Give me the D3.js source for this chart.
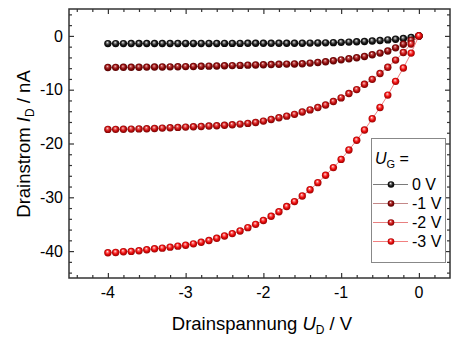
<!DOCTYPE html>
<html>
<head>
<meta charset="utf-8">
<script src="https://cdn.jsdelivr.net/npm/d3@7"></script>
<style>
  html, body { margin: 0; padding: 0; background: #fff; }
  svg { display: block; font-family: Arial, "Liberation Sans", sans-serif; }
</style>
</head>
<body>
<svg id="chart" width="456" height="338"></svg>
<script>
// Drain voltage sweep (V)
const drainVoltage = [
  -4.0, -3.9, -3.8, -3.7, -3.6, -3.5, -3.4, -3.3, -3.2, -3.1,
  -3.0, -2.9, -2.8, -2.7, -2.6, -2.5, -2.4, -2.3, -2.2, -2.1,
  -2.0, -1.9, -1.8, -1.7, -1.6, -1.5, -1.4, -1.3, -1.2, -1.1,
  -1.0, -0.9, -0.8, -0.7, -0.6, -0.5, -0.4, -0.3, -0.2, -0.1, 0.0
];

// Drain current (nA) for each gate voltage
const current0V = [
  -1.43, -1.43, -1.43, -1.42, -1.42, -1.42, -1.42, -1.41, -1.41, -1.41,
  -1.41, -1.40, -1.40, -1.40, -1.40, -1.39, -1.39, -1.39, -1.38, -1.38,
  -1.38, -1.38, -1.37, -1.37, -1.37, -1.36, -1.34, -1.32, -1.29, -1.25,
  -1.20, -1.15, -1.10, -1.04, -0.96, -0.86, -0.74, -0.62, -0.49, -0.28, 0.0
];
const currentM1V = [
  -5.86, -5.85, -5.84, -5.83, -5.82, -5.80, -5.79, -5.77, -5.75, -5.73,
  -5.71, -5.68, -5.65, -5.62, -5.59, -5.55, -5.52, -5.48, -5.44, -5.40,
  -5.36, -5.32, -5.28, -5.24, -5.21, -5.17, -5.06, -4.94, -4.81, -4.63,
  -4.45, -4.25, -4.06, -3.82, -3.50, -3.20, -2.80, -2.22, -1.55, -0.80, 0.0
];
const currentM2V = [
  -17.38, -17.37, -17.35, -17.32, -17.29, -17.26, -17.20, -17.14, -17.07, -17.01,
  -16.95, -16.89, -16.83, -16.76, -16.70, -16.62, -16.52, -16.39, -16.26, -16.09,
  -15.84, -15.53, -15.22, -14.92, -14.58, -14.15, -13.75, -13.32, -12.85, -12.20,
  -11.52, -10.72, -9.98, -9.00, -8.08, -7.00, -5.83, -4.50, -3.08, -1.50, 0.0
];
const currentM3V = [
  -40.31, -40.25, -40.12, -40.06, -39.94, -39.75, -39.57, -39.45, -39.27, -39.08,
  -38.90, -38.65, -38.35, -38.04, -37.61, -37.18, -36.75, -36.26, -35.64, -35.03,
  -34.30, -33.52, -32.69, -31.72, -30.80, -29.75, -28.60, -27.28, -25.91, -24.48,
  -22.96, -21.20, -19.40, -17.50, -15.40, -13.30, -11.00, -8.45, -5.98, -3.20, 0.0
];

const gateLabels = ["0 V", "-1 V", "-2 V", "-3 V"];
const seriesCurrents = [current0V, currentM1V, currentM2V, currentM3V];
const markerColors = [
  { light: "#9a9a9a", base: "#1a1a1a", dark: "#000000", line: "#7a7a7a" },
  { light: "#d06a6a", base: "#8e0a0a", dark: "#4a0000", line: "#c48888" },
  { light: "#f07a7a", base: "#c81010", dark: "#6a0000", line: "#e88080" },
  { light: "#ff8a8a", base: "#ec0c0c", dark: "#8a0000", line: "#f28080" }
];

const xTickValues = [-4, -3, -2, -1, 0];
const yTickValues = [0, -10, -20, -30, -40];

const width = 456, height = 338;
const plot = { left: 69, right: 450, top: 9, bottom: 278 };

const svg = d3.select("#chart");

const x = d3.scaleLinear().domain([-4.5, 0.4]).range([plot.left, plot.right]);
const y = d3.scaleLinear().domain([-45, 5]).range([plot.bottom, plot.top]);

// Sphere-like radial gradients for the markers
const defs = svg.append("defs");
markerColors.forEach((c, i) => {
  const g = defs.append("radialGradient")
    .attr("id", "ball" + i)
    .attr("cx", "50%").attr("cy", "50%").attr("r", "55%")
    .attr("fx", "42%").attr("fy", "32%");
  g.append("stop").attr("offset", "0%").attr("stop-color", "#ffffff");
  g.append("stop").attr("offset", "18%").attr("stop-color", c.light);
  g.append("stop").attr("offset", "55%").attr("stop-color", c.base);
  g.append("stop").attr("offset", "100%").attr("stop-color", c.dark);
});

defs.append("clipPath").attr("id", "plotClip")
  .append("rect")
  .attr("x", plot.left).attr("y", plot.top)
  .attr("width", plot.right - plot.left).attr("height", plot.bottom - plot.top);

// Series: connecting line, then spheres
const line = d3.line()
  .x((d, i) => x(drainVoltage[i]))
  .y(d => y(d));

const seriesG = svg.append("g").attr("clip-path", "url(#plotClip)");
seriesCurrents.forEach((vals, s) => {
  const g = seriesG.append("g");
  g.append("path")
    .datum(vals)
    .attr("d", line)
    .attr("fill", "none")
    .attr("stroke", markerColors[s].line)
    .attr("stroke-width", 1);
  g.selectAll("circle")
    .data(vals)
    .join("circle")
    .attr("cx", (d, i) => x(drainVoltage[i]))
    .attr("cy", d => y(d))
    .attr("r", 3.7)
    .attr("fill", `url(#ball${s})`);
});

// Frame with inward ticks on all four sides
const axisColor = "#333";
const xMinor = d3.range(-44, 5, 2).map(v => v / 10).filter(v => !xTickValues.includes(v) && v > -4.5 && v < 0.4);
const yMinor = d3.range(-44, 6, 2).filter(v => !yTickValues.includes(v));

const axes = svg.append("g");

function tickAxis(axisFn, scale, transform, values, size) {
  const a = axisFn(scale).tickValues(values).tickSize(size).tickFormat("");
  const g = axes.append("g").attr("transform", transform).call(a);
  g.select(".domain").remove();
  g.selectAll("line").attr("stroke", axisColor).attr("stroke-width", 1.2);
  return g;
}

// bottom and top
tickAxis(d3.axisTop, x, `translate(0,${plot.bottom})`, xTickValues, 5);
tickAxis(d3.axisTop, x, `translate(0,${plot.bottom})`, xMinor, 3);
tickAxis(d3.axisBottom, x, `translate(0,${plot.top})`, xTickValues, 5);
tickAxis(d3.axisBottom, x, `translate(0,${plot.top})`, xMinor, 3);
// left and right
tickAxis(d3.axisRight, y, `translate(${plot.left},0)`, yTickValues, 5);
tickAxis(d3.axisRight, y, `translate(${plot.left},0)`, yMinor, 3);
tickAxis(d3.axisLeft, y, `translate(${plot.right},0)`, yTickValues, 5);
tickAxis(d3.axisLeft, y, `translate(${plot.right},0)`, yMinor, 3);

axes.append("rect")
  .attr("x", plot.left).attr("y", plot.top)
  .attr("width", plot.right - plot.left).attr("height", plot.bottom - plot.top)
  .attr("fill", "none").attr("stroke", axisColor).attr("stroke-width", 1.5);

// Tick labels
const fmt = v => String(v).replace("\u2212", "-");
svg.append("g").selectAll("text")
  .data(xTickValues)
  .join("text")
  .attr("x", d => x(d))
  .attr("y", 298)
  .attr("text-anchor", "middle")
  .attr("font-size", 16)
  .attr("fill", "#000")
  .text(fmt);

svg.append("g").selectAll("text")
  .data(yTickValues)
  .join("text")
  .attr("x", 63)
  .attr("y", d => y(d))
  .attr("dy", "0.36em")
  .attr("text-anchor", "end")
  .attr("font-size", 16)
  .attr("fill", "#000")
  .text(fmt);

// Axis titles
const xTitle = svg.append("text")
  .attr("x", 262).attr("y", 330)
  .attr("text-anchor", "middle")
  .attr("font-size", 18.5)
  .attr("fill", "#000");
xTitle.append("tspan").text("Drainspannung ");
xTitle.append("tspan").attr("font-style", "italic").text("U");
xTitle.append("tspan").attr("font-size", 12).attr("dy", 4).text("D");
xTitle.append("tspan").attr("dy", -4).text(" / V");

const yTitle = svg.append("text")
  .attr("transform", "translate(30,144) rotate(-90)")
  .attr("text-anchor", "middle")
  .attr("font-size", 18.5)
  .attr("fill", "#000");
yTitle.append("tspan").text("Drainstrom ");
yTitle.append("tspan").attr("font-style", "italic").text("I");
yTitle.append("tspan").attr("font-size", 12).attr("dy", 4).text("D");
yTitle.append("tspan").attr("dy", -4).text(" / nA");

// Legend
const legend = svg.append("g");
legend.append("rect")
  .attr("x", 371.5).attr("y", 138.5)
  .attr("width", 74).attr("height", 124)
  .attr("fill", "#fff").attr("stroke", "#888").attr("stroke-width", 1);

const legTitle = legend.append("text")
  .attr("x", 375).attr("y", 164)
  .attr("font-size", 16).attr("fill", "#000");
legTitle.append("tspan").attr("font-style", "italic").text("U");
legTitle.append("tspan").attr("font-size", 11).attr("dy", 4).text("G");
legTitle.append("tspan").attr("dy", -4).text(" =");

const legRows = legend.selectAll("g.row")
  .data(gateLabels)
  .join("g")
  .attr("class", "row")
  .attr("transform", (d, i) => `translate(0,${184.5 + i * 19})`);
legRows.append("line")
  .attr("x1", 373).attr("x2", 408)
  .attr("stroke", (d, i) => markerColors[i].line)
  .attr("stroke-width", 1);
legRows.append("circle")
  .attr("cx", 391).attr("cy", 0).attr("r", 3.3)
  .attr("fill", (d, i) => `url(#ball${i})`);
legRows.append("text")
  .attr("x", 412).attr("dy", "0.36em")
  .attr("font-size", 16).attr("fill", "#000")
  .text(d => d);
</script>
</body>
</html>
